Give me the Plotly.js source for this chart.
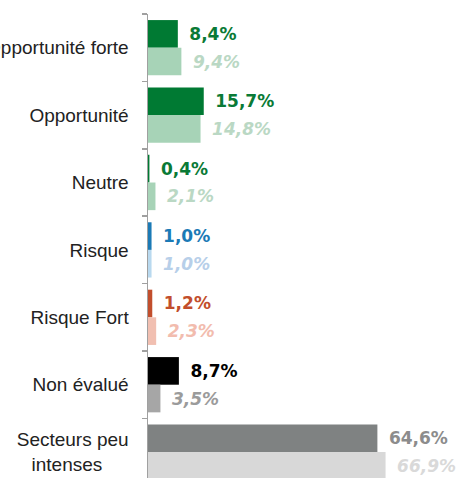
<!DOCTYPE html>
<html>
<head>
<meta charset="utf-8">
<script src="https://cdn.plot.ly/plotly-3.0.1.min.js"></script>
<style>html,body{margin:0;padding:0;background:#fff;}#chart{width:458px;height:478px;}</style>
</head>
<body>
<div id="chart"></div>
<script>
var categories = ['Opportunité forte', 'Opportunité', 'Neutre', 'Risque', 'Risque Fort', 'Non évalué', 'Secteurs peu<br>intenses\u00a0\u00a0\u00a0\u00a0\u00a0'];
var seriesA = [8.4, 15.7, 0.4, 1.0, 1.2, 8.7, 64.6];
var seriesB = [9.4, 14.8, 2.1, 1.0, 2.3, 3.5, 66.9];
var barColorsA = ['#007a33', '#007a33', '#007a33', '#1b7ab6', '#c24e2c', '#000000', '#7f8282'];
var barColorsB = ['#a7d3b7', '#a7d3b7', '#a7d3b7', '#b9d9ef', '#f1bfb1', '#a6a6a6', '#d8d8d8'];
var labelColorsA = ['#0a7a36', '#0a7a36', '#0a7a36', '#1b7ab6', '#c24e2c', '#000000', '#8c8c8c'];
var labelColorsB = ['#bad8c4', '#bad8c4', '#bad8c4', '#b7cfe9', '#f2bcae', '#9b9b9b', '#d9d9d9'];

function fmt(v) { return '\u2002' + v.toFixed(1).replace('.', ',') + '%'; }

var traceA = {
  type: 'bar', orientation: 'h', y: categories, x: seriesA,
  marker: {color: barColorsA},
  text: seriesA.map(fmt), textposition: 'outside', constraintext: 'none', cliponaxis: false,
  textfont: {family: 'DejaVu Sans', size: 17, weight: 700, color: labelColorsA},
  hoverinfo: 'none'
};
var traceB = {
  type: 'bar', orientation: 'h', y: categories, x: seriesB,
  marker: {color: barColorsB},
  text: seriesB.map(fmt), textposition: 'outside', constraintext: 'none', cliponaxis: false,
  textfont: {family: 'DejaVu Sans', size: 17, weight: 700, style: 'italic', color: labelColorsB},
  hoverinfo: 'none'
};

var layout = {
  width: 458, height: 478,
  margin: {l: 148, r: 0, t: 14, b: 0, pad: 0},
  paper_bgcolor: '#ffffff', plot_bgcolor: '#ffffff',
  showlegend: false,
  barmode: 'group', bargap: 0.18, bargroupgap: 0,
  xaxis: {range: [0, 87.3], visible: false, fixedrange: true},
  yaxis: {
    type: 'category', categoryorder: 'array', categoryarray: categories,
    range: [6.384, -0.5], autorange: false,
    showline: true, linecolor: '#a0a0a0', linewidth: 1.5,
    ticks: 'outside', tickson: 'boundaries', ticklen: 5, tickcolor: '#a0a0a0', tickwidth: 1.5,
    ticklabelstandoff: 14,
    showgrid: false, zeroline: false, automargin: false,
    tickfont: {family: 'Liberation Sans, Arial, sans-serif', size: 19, color: '#222222'}
  }
};

Plotly.newPlot('chart', [traceA, traceB], layout, {staticPlot: true, displayModeBar: false});
</script>
</body>
</html>
